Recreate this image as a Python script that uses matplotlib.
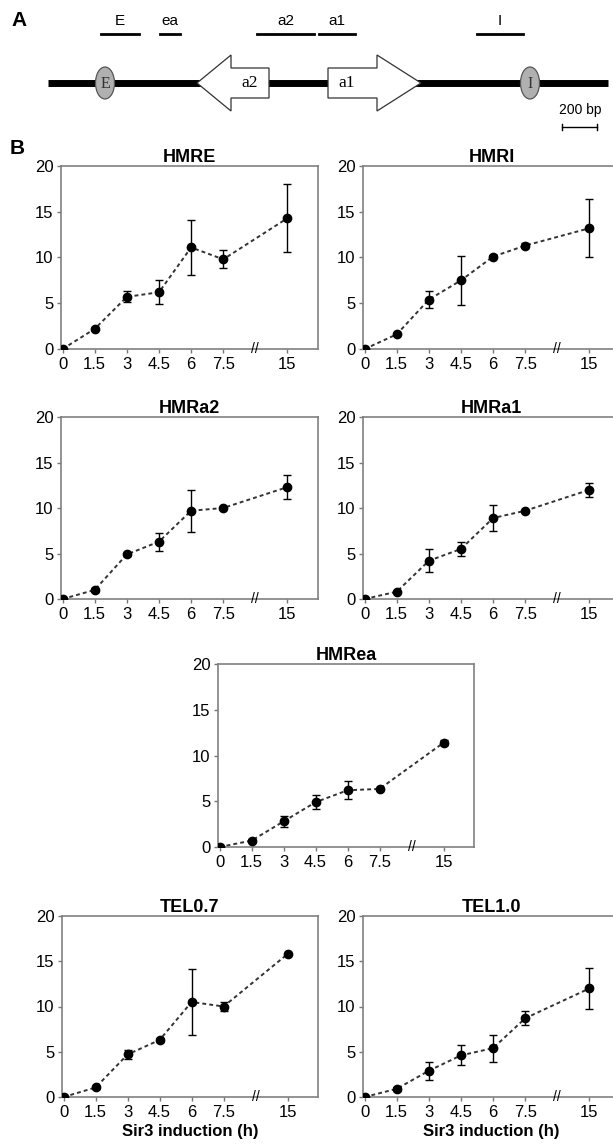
import numpy as np
import matplotlib
matplotlib.use("Agg")
import matplotlib.pyplot as plt
from matplotlib.patches import Polygon, Ellipse

plt.rcParams['font.family'] = ['Liberation Sans', 'DejaVu Sans']

# time points (h) and their slot on the broken x axis
times = [0, 1.5, 3, 4.5, 6, 7.5, 15]
slots = [0, 1, 2, 3, 4, 5, 7]
tick_labels = ['0', '1.5', '3', '4.5', '6', '7.5', '15']

# fold enrichment, mean and error for each locus
hmre = [0, 2.2, 5.7, 6.2, 11.1, 9.8, 14.3]
hmre_err = [0, 0.15, 0.6, 1.3, 3.0, 1.0, 3.7]
hmri = [0, 1.6, 5.4, 7.5, 10.1, 11.3, 13.2]
hmri_err = [0, 0.1, 0.95, 2.7, 0.2, 0.3, 3.2]
hmra2 = [0, 1.0, 4.9, 6.3, 9.7, 10.0, 12.3]
hmra2_err = [0, 0.2, 0.15, 1.0, 2.3, 0.1, 1.35]
hmra1 = [0, 0.8, 4.2, 5.5, 8.9, 9.7, 12.0]
hmra1_err = [0, 0.1, 1.25, 0.75, 1.4, 0.1, 0.8]
hmrea = [0, 0.7, 2.8, 4.9, 6.2, 6.35, 11.4]
hmrea_err = [0, 0.15, 0.6, 0.8, 1.0, 0.15, 0.3]
tel07 = [0, 1.05, 4.7, 6.3, 10.5, 10.0, 15.8]
tel07_err = [0, 0.2, 0.5, 0.2, 3.6, 0.5, 0.15]
tel10 = [0, 0.9, 2.9, 4.6, 5.4, 8.7, 12.0]
tel10_err = [0, 0.2, 1.0, 1.1, 1.5, 0.75, 2.3]

W, H = 613, 1144
fig = plt.figure(figsize=(W / 100, H / 100), dpi=100)


def px_axes(left, top, right, bottom):
    return fig.add_axes([left / W, 1 - bottom / H, (right - left) / W, (bottom - top) / H])


# ---- panel A: HMR locus map ----
ax = px_axes(0, 0, W, 140)
ax.set_xlim(0, W)
ax.set_ylim(140, 0)
ax.axis('off')

line_y = 83
serif = ['Liberation Serif', 'DejaVu Serif']
ax.plot([48, 608], [line_y, line_y], color='black', lw=5, solid_capstyle='butt', zorder=1)

# arrows (genes)
a2_pts = [(197, line_y), (231, 55), (231, 68), (269, 68), (269, 98), (231, 98), (231, 111)]
a1_pts = [(421, line_y), (377, 55), (377, 68), (328, 68), (328, 98), (377, 98), (377, 111)]
for pts, name, cx in [(a2_pts, 'a2', 250), (a1_pts, 'a1', 347)]:
    ax.add_patch(Polygon(pts, closed=True, facecolor='white', edgecolor='#333333', lw=0.9, zorder=2))
    ax.text(cx, line_y, name, ha='center', va='center', fontsize=12.5, family=serif, zorder=3)

# silencers
for cx, name in [(105, 'E'), (530, 'I')]:
    ax.add_patch(Ellipse((cx, line_y), 19, 32, facecolor='#b0b0b0', edgecolor='#555555', lw=0.9, zorder=2))
    ax.text(cx, line_y + 1, name, ha='center', va='center', fontsize=11.5,
            family=serif, color='#333333', zorder=3)

# PCR fragments
frag_names = ['E', 'ea', 'a2', 'a1', 'I']
frag_start = [101, 160, 257, 319, 477]
frag_end = [139, 180, 314, 355, 523]
for s, e, n in zip(frag_start, frag_end, frag_names):
    ax.plot([s, e], [34, 34], color='black', lw=2)
    ax.text((s + e) / 2, 28, n, ha='center', va='bottom', fontsize=11)

ax.text(11, 20, 'A', fontsize=15, fontweight='bold', ha='left', va='center')
ax.text(580, 110, '200 bp', fontsize=10, ha='center', va='center')
ax.plot([562, 597], [127, 127], color='black', lw=1)
ax.plot([562, 562], [124, 130], color='black', lw=1)
ax.plot([597, 597], [124, 130], color='black', lw=1)

fig.text(10 / W, 1 - 149 / H, 'B', fontsize=15, fontweight='bold', ha='left', va='center')


# ---- panel B: ChIP time courses ----
def panel(box, title, vals, errs, xlabel=False):
    ax = px_axes(*box)
    ax.errorbar(slots, vals, yerr=errs, fmt='o', color='black', ms=6,
                ecolor='black', elinewidth=1, capsize=3, capthick=1, zorder=3)
    ax.plot(slots, vals, color='#333333', lw=1.4, linestyle=(0, (2, 1.6)), zorder=2)
    ax.set_xlim(-0.05, 7.95)
    ax.set_ylim(0, 20)
    ax.set_yticks([0, 5, 10, 15, 20])
    ax.set_xticks(slots)
    ax.set_xticklabels(tick_labels)
    ax.tick_params(axis='both', labelsize=12, colors='#777777', labelcolor='black',
                   length=3, width=1, pad=2.5)
    for sp in ax.spines.values():
        sp.set_color('#808080')
        sp.set_linewidth(1.2)
    ax.set_title(title, fontsize=13, fontweight='bold', pad=3)
    ax.text(6, 0, '//', ha='center', va='center', fontsize=10, clip_on=False, zorder=4)
    if xlabel:
        ax.set_xlabel('Sir3 induction (h)', fontsize=12, fontweight='bold', labelpad=3)
    return ax


panel((61, 166, 318, 349), 'HMRE', hmre, hmre_err)
panel((363, 166, 620, 349), 'HMRI', hmri, hmri_err)
panel((61, 417, 318, 599), 'HMRa2', hmra2, hmra2_err)
panel((363, 417, 620, 599), 'HMRa1', hmra1, hmra1_err)
panel((218, 664, 474, 847), 'HMRea', hmrea, hmrea_err)
panel((62, 916, 318, 1097), 'TEL0.7', tel07, tel07_err, xlabel=True)
panel((363, 916, 620, 1097), 'TEL1.0', tel10, tel10_err, xlabel=True)

fig.savefig('out.png', dpi=100)
